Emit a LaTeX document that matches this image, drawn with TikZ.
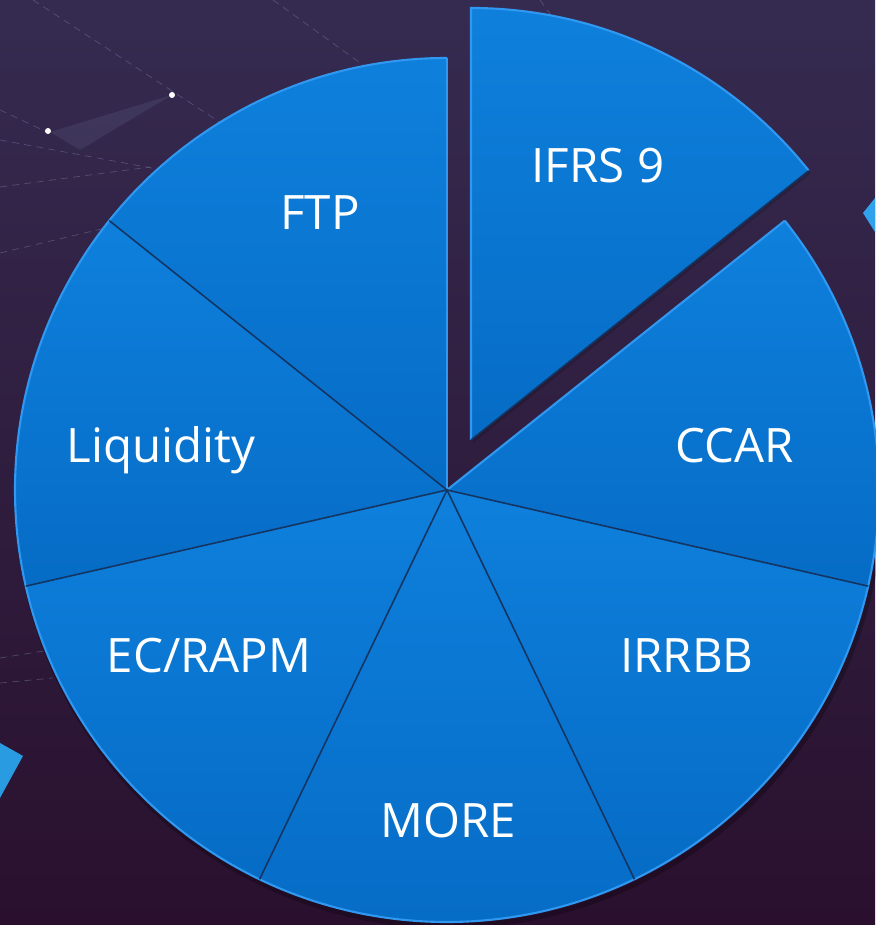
\documentclass[tikz,border=0pt]{standalone}
\usepackage{fontspec}
\setmainfont{Open Sans}
\usetikzlibrary{calc}
\definecolor{bgtop}{RGB}{53,43,80}
\definecolor{bgbot}{RGB}{42,16,46}
\definecolor{pielight}{RGB}{14,128,220}
\definecolor{piedark}{RGB}{6,108,198}
\definecolor{rim}{RGB}{48,152,240}
\definecolor{sep}{RGB}{20,52,98}
\definecolor{accent}{RGB}{48,162,236}
\definecolor{accenttwo}{RGB}{40,155,225}
\definecolor{netline}{RGB}{130,140,180}
\begin{document}
\begin{tikzpicture}[x=0.02cm,y=0.02cm,
  slicefill/.style={top color=pielight,bottom color=piedark},
  rimline/.style={draw=rim,line width=1.2pt},
  sepline/.style={draw=sep,line width=0.9pt},
  lbl/.style={text=white,font=\fontsize{27}{30}\selectfont,anchor=base,inner sep=0pt},
  netdash/.style={draw=netline,opacity=0.4,dash pattern=on 4pt off 3pt,line width=0.4pt}]
% background
\shade[top color=bgtop,bottom color=bgbot] (0,0) rectangle (875,925);
\useasboundingbox (0,0) rectangle (875,925);
% network lines
\draw[netdash] (33,925) -- (250,783);
\draw[netdash] (273,925) -- (370,855);
\draw[netdash] (540,925) -- (556,903);
\draw[netdash] (0,738) -- (150,758);
\draw[netdash] (0,672) -- (110,698);
\draw[netdash] (0,815) -- (47,793);
\draw[netdash] (0,785) -- (200,748);
\draw[netdash] (0,242) -- (53,247);
\draw[netdash] (0,267) -- (50,275);
\fill[netline,opacity=0.15] (172,830) -- (50,793) -- (80,775) -- cycle;
\fill[white] (48,794) circle (3);
\fill[white] (172,830) circle (3);
% accents
\fill[accent] (875,727) -- (863,712) -- (875,693) -- cycle;
\fill[accenttwo] (0,182) -- (23,169) -- (0,127) -- cycle;
% soft shadow under the lower rim
\draw[black,opacity=0.25,line width=3pt] (449,431) ++(150:432) arc[start angle=150,end angle=360,radius=432];
% base slices
\foreach \s/\e in {90/141.43, 141.43/192.86, 192.86/244.29, 244.29/295.71, 295.71/347.14, -12.86/38.57} {
  \fill[slicefill] (447,435) -- +(\s:432) arc[start angle=\s,end angle=\e,radius=432] -- cycle;
}
% outer rim of base pie
\draw[rimline] (447,435) ++(90:432) arc[start angle=90,end angle=347.14,radius=432];
\draw[rimline] (447,435) ++(-12.86:432) arc[start angle=-12.86,end angle=38.57,radius=432];
\draw[rimline] (447,435) -- +(90:432);
\draw[rimline] (447,435) -- +(38.57:432);
% separators
\foreach \a in {141.43, 192.86, 244.29, 295.71, 347.14} {
  \draw[sepline] (447,435) -- +(\a:432);
}
% exploded IFRS 9 slice
\fill[black,opacity=0.15] (473,482) -- +(38.57:432) arc[start angle=38.57,end angle=90,radius=432] -- cycle;
\fill[slicefill] (471,485) -- +(38.57:432) arc[start angle=38.57,end angle=90,radius=432] -- cycle;
\draw[rimline] (471,485) ++(38.57:432) arc[start angle=38.57,end angle=90,radius=432] -- (471,485);
\draw[sepline] (471,485) -- +(38.57:432);
% labels
\node[lbl] (ifrs) at (598,742) {IFRS 9};
\node[lbl] (ftp) at (320,695) {FTP};
\node[lbl] (liq) at (161,462) {Liquidity};
\node[lbl] (ccar) at (735,462) {CCAR};
\node[lbl] (ec) at (209,252) {EC/RAPM};
\node[lbl] (irr) at (687,252) {IRRBB};
\node[lbl] (more) at (448,87) {MORE};
\end{tikzpicture}
\end{document}
